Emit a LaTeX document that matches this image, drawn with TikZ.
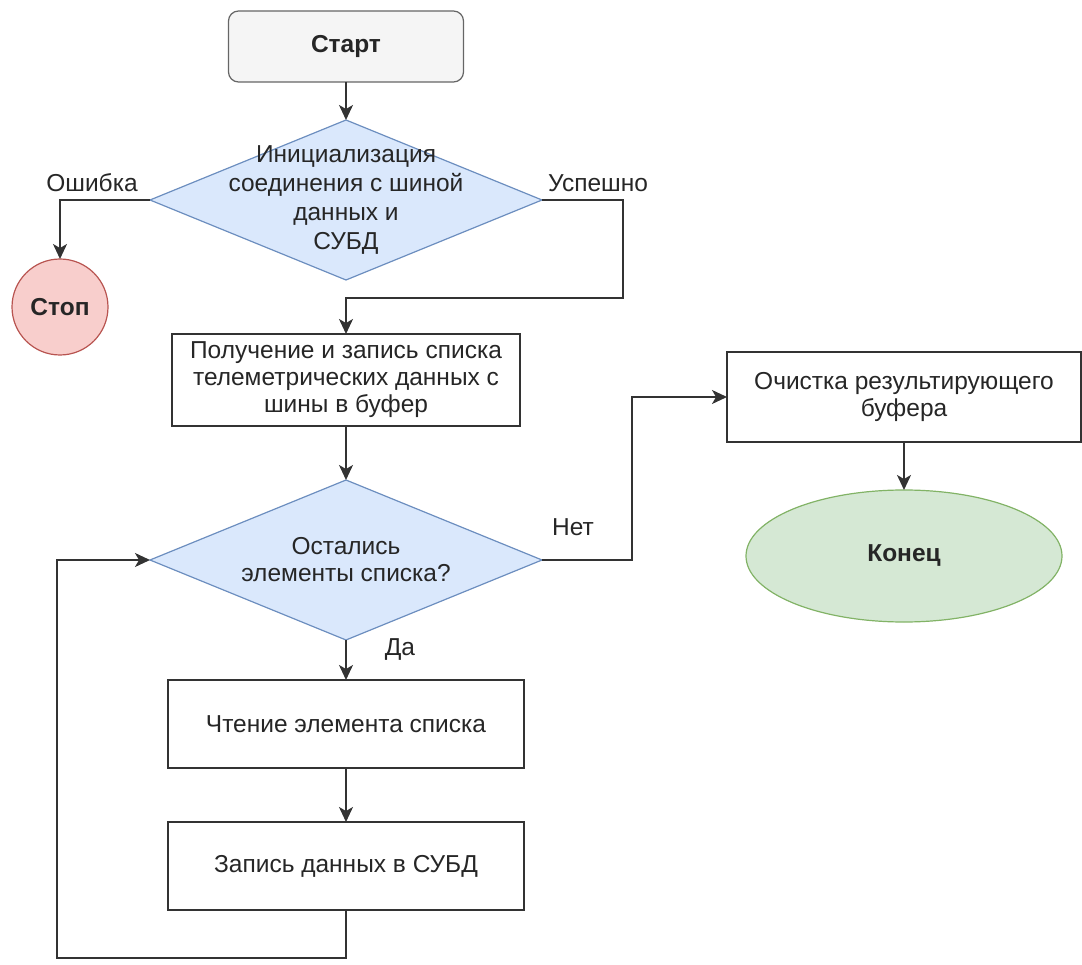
\documentclass[tikz,border=0pt]{standalone}
\usepackage{fontspec}
\setmainfont{Liberation Sans}
\usetikzlibrary{shapes.geometric,arrows.meta}
\definecolor{lineclr}{HTML}{333333}
\definecolor{textclr}{HTML}{262626}
\definecolor{startfill}{HTML}{F5F5F5}
\definecolor{startline}{HTML}{666666}
\definecolor{decfill}{HTML}{DAE8FC}
\definecolor{decline}{HTML}{6C8EBF}
\definecolor{stopfill}{HTML}{F8CECC}
\definecolor{stopline}{HTML}{B85450}
\definecolor{endfill}{HTML}{D5E8D4}
\definecolor{endline}{HTML}{82B366}
\tikzset{
  base/.style={inner sep=0pt, outer sep=0pt, align=center, font=\fontsize{24.5}{27}\selectfont, text=textclr},
  boldtext/.style={font=\bfseries\fontsize{24.5}{27}\selectfont},
  procbox/.style={base, draw=lineclr, line width=1.6pt, fill=white, minimum width=#1, minimum height=90pt},
  decision/.style={base, shape=diamond, draw=decline, line width=1.2pt, fill=decfill, minimum width=392pt, minimum height=160pt},
  flow/.style={draw=lineclr, line width=1.6pt, -{Stealth[length=15pt, width=14pt, inset=4pt]}},
  edgelabel/.style={base}
}
\begin{document}
\begin{tikzpicture}[x=1pt, y=-1pt]
\useasboundingbox (0,0) rectangle (1082,965);

% terminals
\node[base, boldtext, draw=startline, line width=1.2pt, fill=startfill, rounded corners=10pt,
      minimum width=235pt, minimum height=71pt] (start) at (346,46.5) {Старт};
\node[base, boldtext, shape=circle, draw=stopline, line width=1.2pt, fill=stopfill,
      minimum size=96pt] (stop) at (60,307) {Стоп};
\node[base, boldtext, shape=ellipse, draw=endline, line width=1.2pt, fill=endfill,
      minimum width=316pt, minimum height=132pt] (end) at (904,556) {Конец};

% decisions (text set as a centred label so it does not widen the diamond)
\node[decision, label={[base, font=\fontsize{24.5}{29}\selectfont]center:Инициализация\\соединения с шиной\\данных и\\СУБД}]
      (d1) at (346,200) {};
\node[decision, label={[base]center:Остались\\элементы списка?}]
      (d2) at (346,560) {};

% processes
\node[procbox=348pt, minimum height=92pt] (b1) at (346,380)
      {Получение и запись списка\\телеметрических данных с\\шины в буфер};
\node[procbox=354pt] (clr) at (904,397) {Очистка результирующего\\буфера};
\node[procbox=356pt, minimum height=88pt] (b2) at (346,724) {Чтение элемента списка};
\node[procbox=356pt, minimum height=88pt] (b3) at (346,866) {Запись данных в СУБД};

% bend points
\coordinate (okbend) at (623,298);
\coordinate (nobend) at (632,560);
\coordinate (loopbend) at (57,958);

% connectors
\draw[flow] (start.south) -- (d1.north);
\draw[flow] (d1.west) -| (stop.north);
\draw[flow] (d1.east) -| (okbend) -| (b1.north);
\draw[flow] (b1.south) -- (d2.north);
\draw[flow] (d2.east) -- (nobend) |- (clr.west);
\draw[flow] (clr.south) -- (end.north);
\draw[flow] (d2.south) -- (b2.north);
\draw[flow] (b2.south) -- (b3.north);
\draw[flow] (b3.south) |- (loopbend) |- (d2.west);

% edge labels
\node[edgelabel] (lerr) at (92,183) {Ошибка};
\node[edgelabel] (lok) at (598,183) {Успешно};
\node[edgelabel] (lno) at (573,527) {Нет};
\node[edgelabel] (lyes) at (400,650) {Да};
\end{tikzpicture}
\end{document}
